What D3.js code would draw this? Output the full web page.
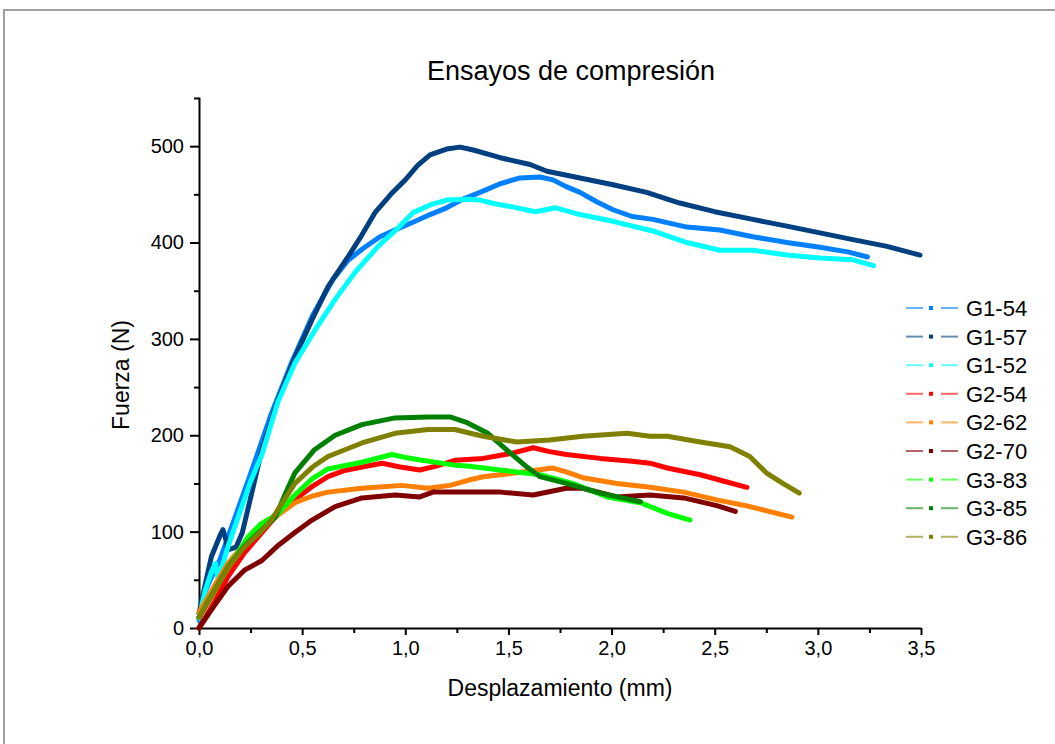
<!DOCTYPE html>
<html>
<head>
<meta charset="utf-8">
<script src="https://cdn.jsdelivr.net/npm/d3@7"></script>
<style>
    body { margin: 0; background: #fff; }
    text { font-family: "Liberation Sans", Arial, sans-serif; fill: #000; }
</style>
</head>
<body>
<div class="chart"></div>
<script>
// series data: [displacement mm, force N]
const G1_54 = [[0,8],[0.03,38],[0.08,62],[0.1,70],[0.15,100],[0.25,160],[0.35,222],[0.45,276],[0.55,324],[0.65,362],[0.72,381],[0.79,393],[0.877,406],[0.95,413],[1.037,421],[1.12,429],[1.2,436],[1.28,445],[1.362,452],[1.46,461],[1.556,467],[1.653,468],[1.716,465],[1.78,458],[1.847,452],[1.93,442],[2.007,434],[2.1,427],[2.2,424],[2.365,416],[2.525,413],[2.685,406],[2.85,400],[3.01,395],[3.15,390],[3.24,385]];
const G1_57 = [[0,15],[0.03,45],[0.06,74],[0.1,95],[0.116,102],[0.13,92],[0.14,81],[0.18,84],[0.21,99],[0.25,135],[0.305,185],[0.383,237],[0.465,281],[0.548,320],[0.625,354],[0.722,385],[0.79,408],[0.853,431],[0.93,450],[1.0,465],[1.06,480],[1.12,491],[1.2,497],[1.265,499],[1.33,496],[1.46,488],[1.605,481],[1.687,474],[1.847,467],[2.007,460],[2.17,452],[2.33,441],[2.5,432],[2.685,424],[2.85,417],[3.01,410],[3.17,403],[3.335,396],[3.495,387]];
const G1_52 = [[0,10],[0.03,39],[0.06,58],[0.08,67],[0.09,53],[0.11,62],[0.14,84],[0.19,115],[0.25,152],[0.305,180],[0.383,235],[0.465,275],[0.562,309],[0.66,341],[0.756,369],[0.868,396],[0.95,412],[1.037,431],[1.12,439],[1.2,444],[1.3,445],[1.362,444],[1.44,440],[1.52,437],[1.63,432],[1.73,436],[1.847,429],[2.007,422],[2.2,412],[2.365,400],[2.525,392],[2.685,392],[2.85,387],[3.01,384],[3.17,382],[3.27,376]];
const G2_54 = [[0,0],[0.07,25],[0.14,53],[0.22,78],[0.305,99],[0.38,118],[0.465,133],[0.55,147],[0.625,157],[0.7,163],[0.79,167],[0.887,171],[0.975,167],[1.07,164],[1.15,168],[1.24,174],[1.377,176],[1.51,181],[1.62,187],[1.7,183],[1.78,180],[1.944,176],[2.1,173],[2.186,171],[2.27,166],[2.43,159],[2.55,152],[2.656,146]];
const G2_62 = [[0,16],[0.07,42],[0.14,67],[0.24,92],[0.335,109],[0.4,120],[0.465,130],[0.55,137],[0.625,141],[0.79,145],[0.984,148],[1.11,145],[1.217,148],[1.3,153],[1.377,157],[1.54,161],[1.716,166],[1.78,162],[1.86,156],[2.026,150],[2.186,146],[2.35,141],[2.51,133],[2.67,126],[2.874,115]];
const G2_70 = [[0,0],[0.07,22],[0.14,43],[0.22,60],[0.305,70],[0.38,85],[0.465,99],[0.548,112],[0.66,126],[0.79,135],[0.95,138],[1.07,136],[1.134,141],[1.3,141],[1.46,141],[1.62,138],[1.78,145],[1.86,145],[2.026,136],[2.186,138],[2.35,135],[2.51,127],[2.6,121]];
const G3_83 = [[0,11],[0.07,37],[0.14,62],[0.24,95],[0.3,108],[0.38,118],[0.465,138],[0.55,155],[0.625,165],[0.79,172],[0.935,180],[1.0,177],[1.08,174],[1.24,169],[1.3,168],[1.46,164],[1.653,159],[1.81,150],[1.98,136],[2.14,130],[2.27,119],[2.38,112]];
const G3_85 = [[0,11],[0.07,37],[0.14,63],[0.22,85],[0.305,102],[0.37,115],[0.42,140],[0.465,161],[0.56,185],[0.66,200],[0.79,211],[0.95,218],[1.11,219],[1.217,219],[1.3,213],[1.4,202],[1.49,185],[1.59,167],[1.653,157],[1.78,150],[1.944,140],[2.14,131]];
const G3_86 = [[0,11],[0.07,36],[0.14,62],[0.22,84],[0.3,100],[0.35,112],[0.465,150],[0.55,167],[0.625,178],[0.79,192],[0.95,202],[1.11,206],[1.24,206],[1.377,199],[1.54,193],[1.7,195],[1.86,199],[2.075,202],[2.186,199],[2.27,199],[2.43,193],[2.574,188],[2.67,178],[2.75,161],[2.83,150],[2.91,140]];

const seriesNames = ["G1-54", "G1-57", "G1-52", "G2-54", "G2-62", "G2-70", "G3-83", "G3-85", "G3-86"];
const seriesData = [G1_54, G1_57, G1_52, G2_54, G2_62, G2_70, G3_83, G3_85, G3_86];
const seriesColors = ["#0080ff", "#004080", "#00ffff", "#ff0000", "#ff8000", "#800000", "#00ff00", "#008000", "#808000"];

const xTicks = [0, 0.5, 1, 1.5, 2, 2.5, 3, 3.5];
const yTicks = [0, 100, 200, 300, 400, 500];

const width = 1055;
const height = 744;
const margin = {top: 97, right: 134, bottom: 116, left: 199};

const svg = d3.select(".chart")
    .append("svg")
    .attr("width", width)
    .attr("height", height);

// grey frame along the top and the left
svg.append("path")
    .attr("d", `M4,${height} L4,10 L${width},10`)
    .attr("fill", "none")
    .attr("stroke", "#a0a0a0")
    .attr("stroke-width", 2);

const xScale = d3.scaleLinear()
    .domain([0, 3.5])
    .range([margin.left, width - margin.right]);

const yScale = d3.scaleLinear()
    .domain([0, 551])
    .range([height - margin.bottom, margin.top]);

const fmt = d3.format(".1f");

// minor ticks first, then major ones with labels
svg.append("g")
    .attr("transform", `translate(0,${height - margin.bottom})`)
    .call(d3.axisBottom(xScale).tickValues(d3.range(0.25, 3.5, 0.5)).tickSize(5).tickFormat(""))
    .call(g => g.select(".domain").remove());

svg.append("g")
    .attr("transform", `translate(0,${height - margin.bottom})`)
    .call(d3.axisBottom(xScale).tickValues(xTicks).tickSize(7).tickSizeOuter(0).tickPadding(6)
        .tickFormat(d => fmt(d).replace(".", ",")));

svg.append("g")
    .attr("transform", `translate(${margin.left},0)`)
    .call(d3.axisLeft(yScale).tickValues(d3.range(50, 551, 100)).tickSize(5).tickFormat(""))
    .call(g => g.select(".domain").remove());

svg.append("g")
    .attr("transform", `translate(${margin.left},0)`)
    .call(d3.axisLeft(yScale).tickValues(yTicks).tickSize(9).tickSizeOuter(0).tickPadding(6));

svg.selectAll(".tick line").attr("stroke", "#000").attr("stroke-width", 2);
svg.selectAll(".domain").attr("stroke", "#000").attr("stroke-width", 2);
svg.selectAll(".tick text").style("font-size", "20px").attr("fill", "#000");

// the curves
const line = d3.line()
    .x(d => xScale(d[0]))
    .y(d => yScale(d[1]));

svg.selectAll(".curve")
    .data(seriesData)
    .join("path")
    .attr("class", "curve")
    .attr("fill", "none")
    .attr("stroke", (d, i) => seriesColors[i])
    .attr("stroke-width", 5)
    .attr("stroke-linejoin", "round")
    .attr("stroke-linecap", "round")
    .attr("d", line);

// titles
svg.append("text")
    .attr("x", 571)
    .attr("y", 80)
    .attr("text-anchor", "middle")
    .style("font-size", "27px")
    .text("Ensayos de compresión");

svg.append("text")
    .attr("x", (margin.left + width - margin.right) / 2)
    .attr("y", 696)
    .attr("text-anchor", "middle")
    .style("font-size", "23px")
    .text("Desplazamiento (mm)");

svg.append("text")
    .attr("transform", "translate(129,375) rotate(-90)")
    .attr("text-anchor", "middle")
    .style("font-size", "23px")
    .text("Fuerza (N)");

// legend
const legend = svg.selectAll(".legend-row")
    .data(seriesNames)
    .join("g")
    .attr("class", "legend-row")
    .attr("transform", (d, i) => `translate(0,${308 + i * 28.6})`);

legend.append("line")
    .attr("x1", 906).attr("x2", 923)
    .attr("stroke", (d, i) => seriesColors[i])
    .attr("stroke-opacity", 0.6)
    .attr("stroke-width", 2);

legend.append("line")
    .attr("x1", 941).attr("x2", 958)
    .attr("stroke", (d, i) => seriesColors[i])
    .attr("stroke-opacity", 0.6)
    .attr("stroke-width", 2);

legend.append("rect")
    .attr("x", 929).attr("y", -2)
    .attr("width", 4).attr("height", 4)
    .attr("fill", (d, i) => seriesColors[i]);

legend.append("text")
    .attr("x", 966)
    .attr("y", 8)
    .style("font-size", "22px")
    .text(d => d);
</script>
</body>
</html>
